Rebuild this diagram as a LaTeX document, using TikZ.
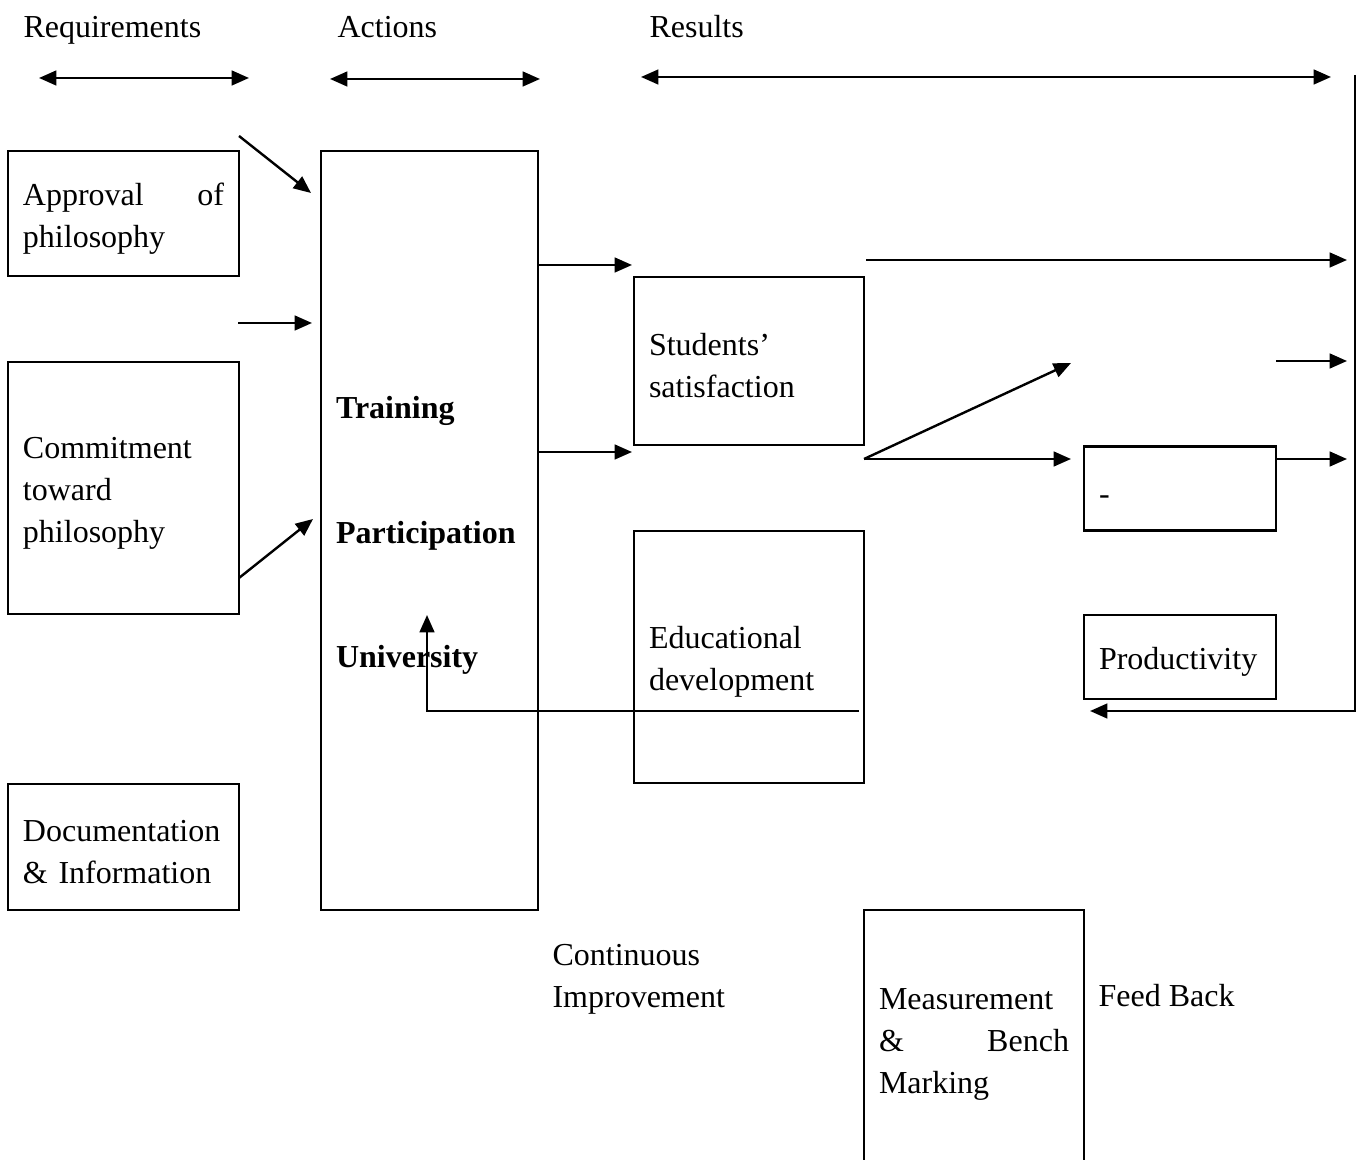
\documentclass[tikz,border=0pt]{standalone}
\usepackage{fontspec}
\setmainfont{Liberation Serif}
\usetikzlibrary{arrows.meta}

\begin{document}
\begin{tikzpicture}[x=0.375pt, y=-0.375pt,
        >={Triangle[length=6.5pt,width=5.5pt]},
        every node/.style={font=\fontsize{12}{15.75}\selectfont},
        box/.style={draw, thick, align=left, inner xsep=5.625pt, inner ysep=0pt, outer sep=0pt,
            execute at begin node={\rule{0pt}{12pt}}},
        txt/.style={inner sep=0pt},
        flow/.style={->, line width=0.9pt}]
                \useasboundingbox (0, 0) rectangle (1360, 1160);
                \clip (0, 0) rectangle (1360, 1160);

                \node[txt, anchor=base west] (req) at (23, 38) {Requirements};
                \node[txt, anchor=base west] (act) at (337, 38) {Actions};
                \node[txt, anchor=base west] (res) at (649, 38) {Results};

                \coordinate (reqL) at (39, 78);
                \coordinate (reqR) at (249, 78);
                \coordinate (actL) at (330, 79);
                \coordinate (actR) at (540, 79);
                \coordinate (resL) at (641, 77);
                \coordinate (resR) at (1331, 77);
                \draw[<->, line width=0.9pt] (reqL) -- (reqR);
                \draw[<->, line width=0.9pt] (actL) -- (actR);
                \draw[<->, line width=0.9pt] (resL) -- (resR);

                \node[box, text width=75.4pt, minimum height=46.9pt] (approval) at (123.5, 213.5) {Approval\hfill of\\philosophy};
                \node[box, text width=75.4pt, minimum height=94.5pt] (commit) at (123.5, 488) {Commitment\\toward\\philosophy};
                \node[box, text width=75.4pt, minimum height=47.25pt] (docu) at (123.5, 847) {Documentation\\\& Information};

                \node[box, text width=70.1pt, minimum height=284.6pt, font=\fontsize{12}{15.75}\selectfont\bfseries] (tpu) at (429.5, 530.5)
                    {Training\\[31pt]Participation\\[31pt]University};

                \node[box, text width=75pt, minimum height=63pt] (sat) at (749, 361) {Students'\\satisfaction};
                \node[box, text width=75pt, minimum height=94.5pt] (edu) at (749, 657) {Educational\\development};
                \node[box, text width=60.75pt, minimum height=31.5pt] (dash) at (1180, 488.5) {-};
                \node[box, text width=60.75pt, minimum height=31.5pt] (prod) at (1180, 657) {Productivity};
                \node[box, text width=71.25pt, minimum height=96.75pt] (meas) at (974, 1039) {Measurement\\\&\hfill Bench\\Marking};

                \node[txt, anchor=west, align=left] (ci) at (552, 979) {Continuous\\Improvement};
                \node[txt, anchor=base west] (fb) at (1098, 1006) {Feed Back};

                \coordinate (in1) at (239, 136);
                \coordinate (in1e) at (311, 193);
                \coordinate (in2) at (238, 323);
                \coordinate (in2e) at (312, 323);
                \coordinate (in3) at (239, 578);
                \coordinate (in3e) at (313, 519);
                \draw[flow] (in1) -- (in1e);
                \draw[flow] (in2) -- (in2e);
                \draw[flow] (in3) -- (in3e);

                \coordinate (out1) at (538, 265);
                \coordinate (out1e) at (632, 265);
                \coordinate (out2) at (538, 452);
                \coordinate (out2e) at (632, 452);
                \draw[flow] (out1) -- (out1e);
                \draw[flow] (out2) -- (out2e);

                \coordinate (top) at (866, 260);
                \coordinate (tope) at (1347, 260);
                \coordinate (split) at (864, 459);
                \coordinate (up) at (1071, 363);
                \coordinate (dashin) at (1071, 459);
                \coordinate (mid) at (1276, 361);
                \coordinate (mide) at (1347, 361);
                \coordinate (dashout) at (1276, 459);
                \coordinate (dashoute) at (1347, 459);
                \draw[flow] (top) -- (tope);
                \draw[flow] (split) -- (up);
                \draw[flow] (split) -- (dashin);
                \draw[flow] (mid) -- (mide);
                \draw[flow] (dashout) -- (dashoute);

                \coordinate (loop) at (1355, 75);
                \coordinate (loope) at (1090, 711);
                \draw[flow] (loop) |- (loope);

                \coordinate (back) at (859, 711);
                \coordinate (backe) at (427, 615);
                \draw[flow] (back) -| (backe);
            \end{tikzpicture}
\end{document}
